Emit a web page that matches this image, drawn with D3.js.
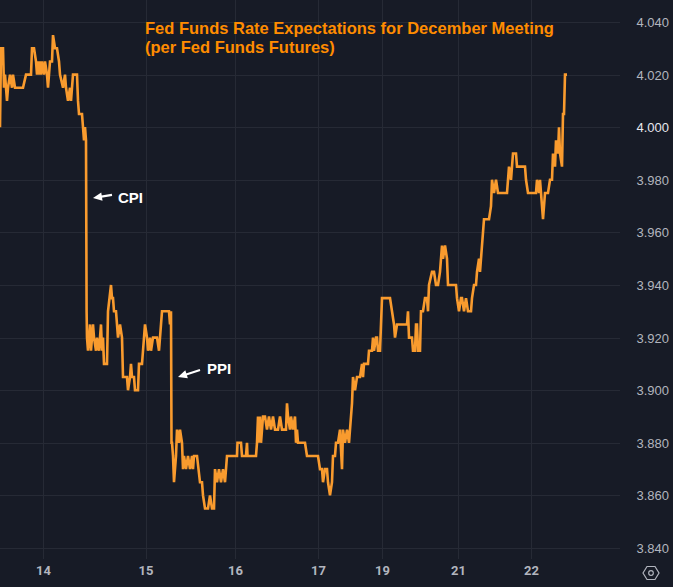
<!DOCTYPE html>
<html><head><meta charset="utf-8">
<script src="https://cdn.jsdelivr.net/npm/d3@7"></script>
<style>
html,body{margin:0;padding:0;background:#171b26;}
svg{display:block;}
</style></head>
<body>
<svg id="chart" width="673" height="587"></svg>
<script>
// ---- data (time in half-hour bars since chart start, rate in %) ----
const titleLines = ["Fed Funds Rate Expectations for December Meeting", "(per Fed Funds Futures)"];
const dayLabels = ["14", "15", "16", "17", "19", "21", "22"];
const dayTickTimes = [21.5, 72.75, 117.5, 159, 191, 229, 265.5];
const yTickValues = [3.84, 3.86, 3.88, 3.90, 3.92, 3.94, 3.96, 3.98, 4.00, 4.02, 4.04];
const times = [
 0,0.5,1.5,2,2.5,3.5,4,5,6,6.5,7.5,11.5,13,15.5,16,17,18,18.5,19,19.5,20,20.5,21,22,22.5,23.5,24,25,26,26.5,27.5,28.5,29.5,30,31.5,32.5,33,34,35,35.5,36.5,38.5,39,39.5,41,41.5,42,42.5,43,
 43.3,43.5,44,45,45.5,46.5,47,48,48.5,49.5,50.5,51,51.5,52,53.5,54,55.5,56,56.5,57,58,58.5,59,60,61,61.5,63.5,64,65,65.5,66,67,67.5,69,69.5,71,71.5,72.5,73.5,74,75,75.5,76.5,78.5,79.5,80,81,84.5,85,85.5,
 85.75,86,86.5,87,88,88.5,89.5,90,91,91.5,92,93,94,95,96,96.5,97,98.5,100,101,101.5,102.5,104,105,106,107,107.5,108.5,109.5,110.5,111.5,112.5,113,113.5,118.5,118.75,120.5,121,123,123.5,123.75,128,128.5,129,129.5,130,130.5,131.5,132.5,133.5,134.5,135.5,136.5,137.5,139,140,141,143,143.5,144,145,145.5,146.5,147.5,148,148.5,149,152.5,153.5,159,160,161,161.5,162.5,163.5,164,165,166,166.5,167.5,168,169,170,171,171.5,172.5,173.5,174.5,175,176,176.5,177.5,178.5,180,181,181.5,182,184,184.5,186,186.5,187,188,188.5,189,190,191,195,196,197,197.5,198.5,203.5,204,204.5,206,206.5,207.5,208,208.5,209,210,210.5,211.5,212.5,213.5,214,214.5,216,217,218,219,220,221,221.5,222.5,223.5,224,228,228.5,229.5,230.5,231,232,233,234,235.5,236,237,238,238.5,239.5,240,241.5,242,244.5,245.5,246,247,248,249,253.5,254,254.5,255.5,256,256.5,258,258.5,262.5,263,264,268,268.5,269.5,270,271,271.5,272,272.5,274,275,276,276.5,277.5,278,279,279.5,280,281,281.5,282,282.5,283.5
];
const rates = [
 4.000,4.030,4.030,4.015,4.020,4.010,4.015,4.020,4.015,4.020,4.015,4.015,4.020,4.020,4.030,4.030,4.025,4.020,4.025,4.020,4.025,4.020,4.025,4.020,4.025,4.020,4.015,4.025,4.025,4.035,4.030,4.030,4.025,4.020,4.015,4.020,4.015,4.010,4.015,4.010,4.020,4.020,4.010,4.005,4.005,4.000,3.995,4.000,3.995,
 3.930,3.920,3.915,3.925,3.915,3.925,3.920,3.915,3.920,3.915,3.925,3.915,3.920,3.910,3.910,3.930,3.940,3.935,3.935,3.930,3.930,3.925,3.920,3.925,3.920,3.905,3.905,3.900,3.905,3.910,3.905,3.905,3.900,3.900,3.910,3.910,3.915,3.925,3.920,3.915,3.920,3.915,3.920,3.920,3.915,3.920,3.930,3.930,3.925,3.930,
 3.880,3.880,3.875,3.865,3.875,3.885,3.880,3.885,3.880,3.870,3.875,3.870,3.875,3.870,3.875,3.870,3.875,3.875,3.865,3.865,3.860,3.855,3.855,3.860,3.855,3.855,3.870,3.865,3.870,3.865,3.870,3.865,3.870,3.875,3.875,3.880,3.880,3.875,3.875,3.880,3.875,3.875,3.880,3.890,3.880,3.890,3.880,3.890,3.890,3.885,3.890,3.885,3.890,3.885,3.885,3.890,3.885,3.885,3.895,3.890,3.885,3.890,3.885,3.890,3.880,3.885,3.880,3.880,3.875,3.875,3.870,3.870,3.865,3.870,3.870,3.865,3.860,3.865,3.875,3.875,3.880,3.880,3.885,3.870,3.885,3.880,3.885,3.880,3.885,3.895,3.905,3.900,3.905,3.905,3.910,3.905,3.910,3.910,3.915,3.915,3.920,3.915,3.920,3.920,3.915,3.915,3.935,3.935,3.930,3.925,3.920,3.925,3.925,3.930,3.920,3.920,3.915,3.915,3.925,3.925,3.915,3.915,3.930,3.930,3.935,3.935,3.930,3.940,3.945,3.945,3.940,3.940,3.945,3.955,3.950,3.955,3.950,3.940,3.940,3.935,3.930,3.935,3.935,3.930,3.935,3.930,3.930,3.935,3.940,3.940,3.945,3.950,3.945,3.960,3.965,3.965,3.970,3.980,3.975,3.980,3.975,3.975,3.980,3.985,3.980,3.985,3.990,3.990,3.985,3.985,3.980,3.975,3.975,3.980,3.975,3.980,3.970,3.965,3.970,3.975,3.975,3.980,3.980,3.990,3.985,3.995,3.990,4.000,3.990,3.985,4.005,4.005,4.020,4.020
];
const annotationLabels = ["CPI", "PPI"];
const annotationTimes = [46.5, 89];
const annotationRates = [3.9731, 3.905];

// ---- layout ----
const W = 673, H = 587;
const plotRight = 620, plotBottom = 559;
const annotationStyle = [
  {tailDx: 19, tailDy: -3, textDx: 25, textDy: 5},
  {tailDx: 22, tailDy: -7, textDx: 29, textDy: -3}
];
const svg = d3.select("#chart");
const bg = "#171b26", grid = "#262a35", axisText = "#b2b5be";
const lineColor = "#f99b2e", titleColor = "#ff8c00";

svg.append("rect").attr("width", W).attr("height", H).attr("fill", bg);

const x = d3.scaleLinear().domain([0, 310]).range([0, 620]);
const y = d3.scaleLinear().domain([3.84, 4.04]).range([548, 22]);

// grid
const g = svg.append("g");
g.selectAll(".hg").data(yTickValues).join("line")
  .attr("x1", 0).attr("x2", plotRight)
  .attr("y1", d => Math.round(y(d)) + 0.5).attr("y2", d => Math.round(y(d)) + 0.5)
  .attr("stroke", grid).attr("stroke-width", 1);
g.selectAll(".vg").data(dayTickTimes).join("line")
  .attr("x1", d => Math.round(x(d)) + 0.5).attr("x2", d => Math.round(x(d)) + 0.5)
  .attr("y1", 0).attr("y2", plotBottom)
  .attr("stroke", grid).attr("stroke-width", 1);

// y axis labels (right)
const yAxis = d3.axisRight(y).tickValues(yTickValues).tickFormat(d3.format(".3f")).tickSize(0);
const ya = svg.append("g").attr("transform", `translate(669,0)`).call(yAxis);
ya.select(".domain").remove();
ya.selectAll("text").attr("text-anchor", "end").attr("x", 0).attr("dy", "0.35em")
  .attr("fill", d => d === 4.00 ? "#e6e8ee" : axisText)
  .style("font-family", "'Liberation Sans', Arial, sans-serif").style("font-size", "13px");

// x axis labels (bottom)
const xAxis = d3.axisBottom(x).tickValues(dayTickTimes).tickFormat((d, i) => dayLabels[i]).tickSize(0);
const xa = svg.append("g").attr("transform", `translate(0,566)`).call(xAxis);
xa.select(".domain").remove();
xa.selectAll("text").attr("y", 0).attr("dy", "0.71em").attr("fill", axisText)
  .style("font-family", "Roboto, 'Liberation Sans', sans-serif").style("font-size", "13px").style("font-weight", "bold");

// settings icon
const icon = svg.append("g").attr("transform", "translate(651,573)");
icon.append("path").attr("d", "M-8,0 L-4,-6.5 L4,-6.5 L8,0 L4,6.5 L-4,6.5 Z")
  .attr("fill", "none").attr("stroke", "#b2b5be").attr("stroke-width", 1.2);
icon.append("circle").attr("r", 2.3).attr("fill", "none").attr("stroke", "#b2b5be").attr("stroke-width", 1.2);

// clip and line
svg.append("clipPath").attr("id", "clip").append("rect").attr("x", 0).attr("y", 0).attr("width", plotRight).attr("height", plotBottom);
const data = times.map((t, i) => ({t, v: rates[i]}));
const line = d3.line().x(d => x(d.t)).y(d => y(d.v)).curve(d3.curveLinear);
svg.append("path").datum(data).attr("clip-path", "url(#clip)")
  .attr("d", line).attr("fill", "none").attr("stroke", lineColor)
  .attr("stroke-width", 2.6).attr("stroke-linejoin", "miter").attr("stroke-miterlimit", 2);

// title
const title = svg.append("text").attr("x", 145).attr("y", 34)
  .attr("fill", titleColor).style("font-family", "'Liberation Sans', Arial, sans-serif")
  .style("font-size", "16.5px").style("font-weight", "bold");
title.selectAll("tspan").data(titleLines).join("tspan")
  .attr("x", 145).attr("dy", (d, i) => i === 0 ? 0 : 19).text(d => d);

// annotations: arrow pointing left to the move, label to the right
annotationLabels.forEach((label, i) => {
  const tx = x(annotationTimes[i]), ty = y(annotationRates[i]);
  const s = annotationStyle[i];
  const ang = Math.atan2(s.tailDy, s.tailDx) * 180 / Math.PI;
  const len = Math.hypot(s.tailDx, s.tailDy);
  const ag = svg.append("g").attr("transform", `translate(${tx},${ty}) rotate(${ang})`);
  ag.append("line").attr("x1", 7).attr("x2", len).attr("y1", 0).attr("y2", 0)
    .attr("stroke", "#ffffff").attr("stroke-width", 2.2);
  ag.append("path").attr("d", "M0,0 L9,-4.2 L9,4.2 Z").attr("fill", "#ffffff");
  svg.append("text").attr("x", tx + s.textDx).attr("y", ty + s.textDy).attr("fill", "#ffffff")
    .style("font-family", "'Liberation Sans', Arial, sans-serif").style("font-size", "15px").style("font-weight", "bold")
    .text(label);
});
</script>
</body></html>
